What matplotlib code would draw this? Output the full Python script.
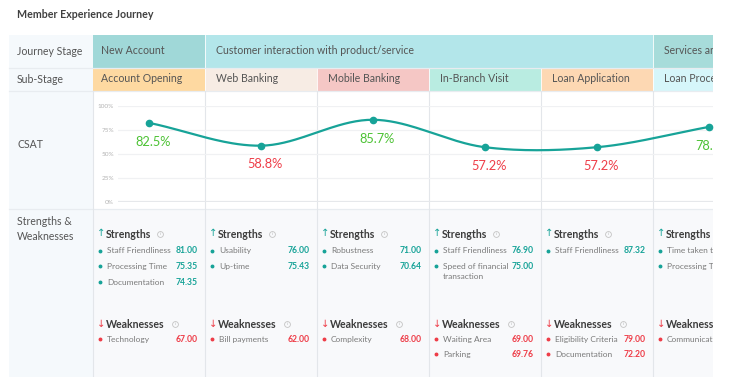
import numpy as np
import matplotlib.pyplot as plt
from matplotlib.patches import Rectangle

# -------------------------------
# Data
# -------------------------------
title = "Member Experience Journey"
row_labels = ["Journey Stage", "Sub-Stage", "CSAT", "Strengths &\nWeaknesses"]

journey_stages = ["New Account", "Customer interaction with product/service", "Services and support"]
journey_spans = [1, 4, 1]
journey_colors = ["#a0d8d8", "#b3e6ea", "#a7dcda"]

sub_stages = ["Account Opening", "Web Banking", "Mobile Banking", "In-Branch Visit",
              "Loan Application", "Loan Processing"]
sub_colors = ["#fed9a1", "#f7ece4", "#f5c7c5", "#b9ece1", "#fdd8b3", "#d6f6fa"]

csat = [82.5, 58.8, 85.7, 57.2, 57.2, 78.3]
csat_ticks = [0, 25, 50, 75, 100]

strengths = [
    [("Staff Friendliness", 81.00), ("Processing Time", 75.35), ("Documentation", 74.35)],
    [("Usability", 76.00), ("Up-time", 75.43)],
    [("Robustness", 71.00), ("Data Security", 70.64)],
    [("Staff Friendliness", 76.90), ("Speed of financial\ntransaction", 75.00)],
    [("Staff Friendliness", 87.32)],
    [("Time taken to act", 78.10), ("Processing Time", 76.40)],
]
weaknesses = [
    [("Technology", 67.00)],
    [("Bill payments", 62.00)],
    [("Complexity", 68.00)],
    [("Waiting Area", 69.00), ("Parking", 69.76)],
    [("Eligibility Criteria", 79.00), ("Documentation", 72.20)],
    [("Communication", 66.00)],
]

# -------------------------------
# Layout (pixels)
# -------------------------------
W, H = 736, 377
VIS_W = 713            # dashboard is cut off on the right
X0, LAB_W, COL_W = 9, 84, 112
ROW_Y = [35, 68, 91, 208.5, 377]
TEAL, RED, GREEN = "#17a398", "#ee3d48", "#4cc234"
FONT = ["Lato", "DejaVu Sans"]

plt.rcParams["font.family"] = FONT

fig = plt.figure(figsize=(W / 100, H / 100), dpi=100)
ax = fig.add_axes([0, 0, VIS_W / W, 1])
ax.set_xlim(0, VIS_W)
ax.set_ylim(H, 0)
ax.axis("off")

col_left = [X0 + LAB_W + COL_W * i for i in range(len(sub_stages))]


def txt(x, y, s, **kw):
    kw.setdefault("va", "center")
    kw.setdefault("fontsize", 7.6)
    kw.setdefault("color", "#555555")
    return ax.text(x, y, s, clip_on=True, **kw)


txt(17, 14, title, fontsize=7.7, fontweight="bold", color="#404040")

# label column
ax.add_patch(Rectangle((X0, ROW_Y[0]), LAB_W, H - ROW_Y[0], color="#f5f9fc", lw=0))
label_y = [51.5, 79.5, 144.5, 229]
for lab, y in zip(row_labels, label_y):
    txt(17, y, lab, linespacing=1.35)

# journey stage row
c = 0
for name, span, color in zip(journey_stages, journey_spans, journey_colors):
    x = col_left[c]
    ax.add_patch(Rectangle((x, ROW_Y[0]), COL_W * span, ROW_Y[1] - ROW_Y[0], color=color, lw=0))
    if c > 0:
        ax.plot([x, x], [ROW_Y[0], ROW_Y[1]], color="white", lw=0.6)
    txt(x + 8 if c == 0 else x + 11, 50.5, name)
    c += span

# sub-stage row
for i, (name, color) in enumerate(zip(sub_stages, sub_colors)):
    x = col_left[i]
    ax.add_patch(Rectangle((x, ROW_Y[1]), COL_W, ROW_Y[2] - ROW_Y[1], color=color, lw=0))
    if i > 0:
        ax.plot([x, x], [ROW_Y[1], ROW_Y[2]], color="white", lw=0.6)
    txt(x + 8 if i == 0 else x + 11, 79, name)

# body backgrounds
ax.add_patch(Rectangle((col_left[0], ROW_Y[2]), VIS_W, ROW_Y[3] - ROW_Y[2], color="white", lw=0))
ax.add_patch(Rectangle((col_left[0], ROW_Y[3]), VIS_W, H - ROW_Y[3], color="#f8f9fb", lw=0))

# separators
for y in ROW_Y[1:4]:
    ax.plot([X0, VIS_W], [y, y], color="#e8ecf0", lw=0.9)
for x in col_left:
    ax.plot([x, x], [ROW_Y[2], H], color="#e3e6ea", lw=0.8)

# strengths & weaknesses
for i, x in enumerate(col_left):
    for kind, items, color, arrow, hy, iy, step in [
        ("Strengths", strengths[i], TEAL, "\u2191", 234, 250.7, 15.7),
        ("Weaknesses", weaknesses[i], RED, "\u2193", 324, 339.3, 15.0),
    ]:
        txt(x + 3.5, hy - 0.5, arrow, fontsize=7.2, color=color,
            family=["DejaVu Sans"])
        txt(x + 12.5, hy, kind, fontsize=7.6, fontweight="bold", color="#3c3c3c")
        ix = x + (67 if kind == "Strengths" else 82)
        if ix < VIS_W:
            ax.plot(ix, hy, "o", ms=4.2, mfc="none", mec="#c4c4c4", mew=0.6)
            txt(ix, hy + 0.3, "i", fontsize=3.2, color="#b5b5b5", ha="center")
        for k, (name, val) in enumerate(items):
            y = iy + step * k
            ax.plot(x + 7, y, "o", ms=1.8, color=color, clip_on=True)
            for j, line in enumerate(name.split("\n")):
                txt(x + 14, y + 10 * j, line, fontsize=6, color="#7a7a7a")
            txt(x + 105, y, f"{val:.2f}", fontsize=6.2, fontweight="bold",
                color=color, ha="right")

# -------------------------------
# CSAT chart
# -------------------------------
top_px, bot_px, left_px = 106, 202.3, 118
cax = fig.add_axes([left_px / W, 1 - bot_px / H, (VIS_W - left_px) / W, (bot_px - top_px) / H])
cax.patch.set_alpha(0)
centers = [(x + COL_W / 2 - left_px) for x in col_left]
cax.set_xlim((np.array([0, VIS_W - left_px]) - centers[0]) / COL_W)
cax.set_ylim(0, 100)
for s in cax.spines.values():
    s.set_visible(False)
cax.set_xticks([])
cax.set_yticks(csat_ticks)
cax.set_yticklabels([f"{t}%" for t in csat_ticks], fontsize=4.6, color="#b3b3b3")
cax.tick_params(axis="y", length=0, pad=3)
for t in csat_ticks:
    cax.axhline(t, color="#e6e8eb" if t == 0 else "#f0f1f3", lw=1.6 if t == 0 else 0.9, zorder=0)

# smooth line through the points (Catmull-Rom)
xs = np.arange(len(csat), dtype=float)
ys = np.array(csat)
m = np.gradient(ys, xs)
curve_x, curve_y = [], []
for i in range(len(xs) - 1):
    t = np.linspace(0, 1, 40)
    h00 = 2 * t**3 - 3 * t**2 + 1
    h10 = t**3 - 2 * t**2 + t
    h01 = -2 * t**3 + 3 * t**2
    h11 = t**3 - t**2
    curve_x.extend(xs[i] + t)
    curve_y.extend(h00 * ys[i] + h10 * m[i] + h01 * ys[i + 1] + h11 * m[i + 1])
cax.plot(curve_x, curve_y, color=TEAL, lw=1.6, zorder=3)
cax.plot(xs, ys, "o", color=TEAL, ms=4.5, zorder=4)
for x, v in zip(xs, ys):
    cax.annotate(f"{v}%", (x, v), xytext=(3, -13.5), textcoords="offset points",
                 ha="center", va="center", fontsize=9.2,
                 color=GREEN if v >= 70 else RED, clip_on=True, zorder=5)

plt.savefig("out.png", dpi=100)
